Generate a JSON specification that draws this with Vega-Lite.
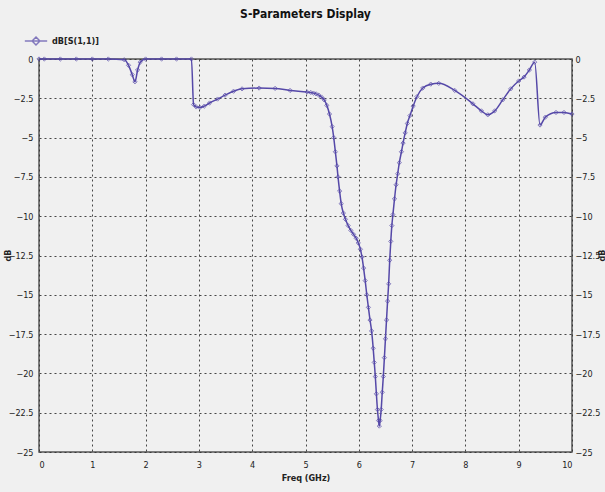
{
  "$schema": "https://vega.github.io/schema/vega-lite/v6.json",
  "width": 533,
  "height": 393,
  "autosize": "none",
  "padding": {"left": 39, "top": 59, "right": 33, "bottom": 40},
  "background": "#f0f0f0",
  "title": {"text": "S-Parameters Display", "offset": 8, "fontSize": 12, "fontWeight": "bold", "font": "Liberation Sans Narrow, DejaVu Sans Condensed, sans-serif", "color": "#111", "anchor": "middle"},
  "config": {
    "view": {"fill": "#f0f0f0", "stroke": "#555", "strokeWidth": 1.5},
    "axis": {"labelFont": "Liberation Sans Narrow, DejaVu Sans Condensed, sans-serif", "labelFontSize": 9, "labelColor": "#222", "titleFont": "Liberation Sans Narrow, DejaVu Sans Condensed, sans-serif", "titleFontSize": 9, "titleFontWeight": "bold", "titleColor": "#222", "ticks": false, "domain": false, "gridColor": "#333", "gridDash": [2, 3], "gridWidth": 1, "gridOpacity": 0.9}
  },
  "data": {"values": [
    {"f": 0, "db": 0}, {"f": 0.1, "db": 0}, {"f": 0.4, "db": 0}, {"f": 0.7, "db": 0}, {"f": 1.0, "db": 0}, {"f": 1.3, "db": 0},
    {"f": 1.6, "db": -0.05}, {"f": 1.68, "db": -0.4}, {"f": 1.75, "db": -1.0}, {"f": 1.8, "db": -1.45}, {"f": 1.85, "db": -0.7}, {"f": 1.9, "db": -0.2}, {"f": 2.0, "db": 0},
    {"f": 2.3, "db": 0}, {"f": 2.58, "db": 0}, {"f": 2.86, "db": 0},
    {"f": 2.9, "db": -2.9}, {"f": 2.95, "db": -3.05}, {"f": 3.02, "db": -3.08}, {"f": 3.1, "db": -3.0}, {"f": 3.2, "db": -2.8}, {"f": 3.35, "db": -2.55}, {"f": 3.49, "db": -2.3}, {"f": 3.65, "db": -2.05}, {"f": 3.81, "db": -1.9}, {"f": 4.13, "db": -1.85}, {"f": 4.43, "db": -1.87}, {"f": 4.71, "db": -2.0}, {"f": 5.03, "db": -2.1},
    {"f": 5.1, "db": -2.13}, {"f": 5.15, "db": -2.17}, {"f": 5.2, "db": -2.22}, {"f": 5.25, "db": -2.3}, {"f": 5.3, "db": -2.42}, {"f": 5.35, "db": -2.6}, {"f": 5.4, "db": -2.95}, {"f": 5.45, "db": -3.5}, {"f": 5.5, "db": -4.3}, {"f": 5.53, "db": -5.0}, {"f": 5.56, "db": -5.9}, {"f": 5.59, "db": -6.8}, {"f": 5.61, "db": -7.5}, {"f": 5.64, "db": -8.4}, {"f": 5.67, "db": -9.2}, {"f": 5.71, "db": -9.8}, {"f": 5.75, "db": -10.2}, {"f": 5.8, "db": -10.6}, {"f": 5.85, "db": -10.9}, {"f": 5.9, "db": -11.15}, {"f": 5.95, "db": -11.4}, {"f": 5.99, "db": -11.7}, {"f": 6.03, "db": -12.1}, {"f": 6.06, "db": -12.6}, {"f": 6.09, "db": -13.3}, {"f": 6.12, "db": -14.1}, {"f": 6.15, "db": -15.0}, {"f": 6.18, "db": -15.8}, {"f": 6.21, "db": -16.6}, {"f": 6.24, "db": -17.3}, {"f": 6.27, "db": -18.4}, {"f": 6.29, "db": -19.3}, {"f": 6.31, "db": -20.2}, {"f": 6.33, "db": -21.3}, {"f": 6.35, "db": -22.3}, {"f": 6.37, "db": -23.0}, {"f": 6.385, "db": -23.35},
    {"f": 6.4, "db": -23.0}, {"f": 6.42, "db": -22.3}, {"f": 6.44, "db": -21.2}, {"f": 6.46, "db": -20.2}, {"f": 6.48, "db": -19.0}, {"f": 6.5, "db": -17.8}, {"f": 6.52, "db": -16.6}, {"f": 6.54, "db": -15.4}, {"f": 6.56, "db": -14.3}, {"f": 6.58, "db": -12.8}, {"f": 6.6, "db": -11.6}, {"f": 6.62, "db": -10.6}, {"f": 6.64, "db": -9.9}, {"f": 6.67, "db": -8.9}, {"f": 6.7, "db": -8.0}, {"f": 6.73, "db": -7.3}, {"f": 6.76, "db": -6.6}, {"f": 6.8, "db": -5.9}, {"f": 6.83, "db": -5.35}, {"f": 6.87, "db": -4.7}, {"f": 6.91, "db": -4.1}, {"f": 6.96, "db": -3.6}, {"f": 7.02, "db": -3.0}, {"f": 7.09, "db": -2.4}, {"f": 7.2, "db": -1.85}, {"f": 7.35, "db": -1.6}, {"f": 7.5, "db": -1.55},
    {"f": 7.8, "db": -2.0}, {"f": 8.14, "db": -2.85}, {"f": 8.3, "db": -3.3}, {"f": 8.42, "db": -3.55}, {"f": 8.55, "db": -3.3}, {"f": 8.7, "db": -2.6}, {"f": 8.85, "db": -1.9}, {"f": 9.0, "db": -1.4}, {"f": 9.1, "db": -1.15}, {"f": 9.2, "db": -0.7}, {"f": 9.3, "db": -0.2},
    {"f": 9.4, "db": -4.2}, {"f": 9.5, "db": -3.7}, {"f": 9.7, "db": -3.4}, {"f": 9.85, "db": -3.4}, {"f": 10, "db": -3.5}
  ]},
  "transform": [{"calculate": "'dB[S(1,1)]'", "as": "series"}],
  "encoding": {
    "x": {"field": "f", "type": "quantitative", "scale": {"domain": [0, 10], "nice": false, "zero": false},
          "axis": {"title": "Freq (GHz)", "values": [0,1,2,3,4,5,6,7,8,9,10], "labelPadding": 8, "titlePadding": 4, "grid": true}},
    "y": {"field": "db", "type": "quantitative", "scale": {"domain": [-25, 0], "nice": false}},
    "color": {"field": "series", "type": "nominal", "scale": {"range": ["#5548a8"]},
              "legend": {"title": null, "orient": "none", "legendX": -15, "legendY": -30, "symbolType": "M-1,0L1,0M0,-0.35L0.35,0L0,0.35L-0.35,0Z", "symbolSize": 500, "symbolStrokeWidth": 1.5, "symbolFillColor": "transparent", "labelFont": "Liberation Sans Narrow, DejaVu Sans Condensed, sans-serif", "labelFontSize": 9, "labelColor": "#222", "labelFontWeight": "bold"}}
  },
  "layer": [
    {"mark": {"type": "line", "interpolate": "monotone", "strokeWidth": 1.5},
     "encoding": {"y": {"field": "db", "type": "quantitative", "scale": {"domain": [-25, 0], "nice": false},
        "axis": {"orient": "left", "title": "dB", "format": ".1~f", "values": [0,-2.5,-5,-7.5,-10,-12.5,-15,-17.5,-20,-22.5,-25], "labelPadding": 6, "titleX": -32, "titleY": 196, "titleAngle": -90, "titleBaseline": "middle", "titleAlign": "center", "grid": true}}}},
    {"mark": {"type": "point", "shape": "diamond", "size": 18, "filled": false, "strokeWidth": 1, "color": "#473c98"},
     "encoding": {"y": {"field": "db", "type": "quantitative", "scale": {"domain": [-25, 0], "nice": false},
        "axis": {"orient": "right", "title": "dB", "format": ".1~f", "values": [0,-2.5,-5,-7.5,-10,-12.5,-15,-17.5,-20,-22.5,-25], "labelPadding": 3, "titleX": 29, "titleY": 196, "titleAngle": -90, "titleBaseline": "middle", "titleAlign": "center", "grid": false}}}}
  ],
  "resolve": {"scale": {"y": "independent", "color": "shared"}}
}
